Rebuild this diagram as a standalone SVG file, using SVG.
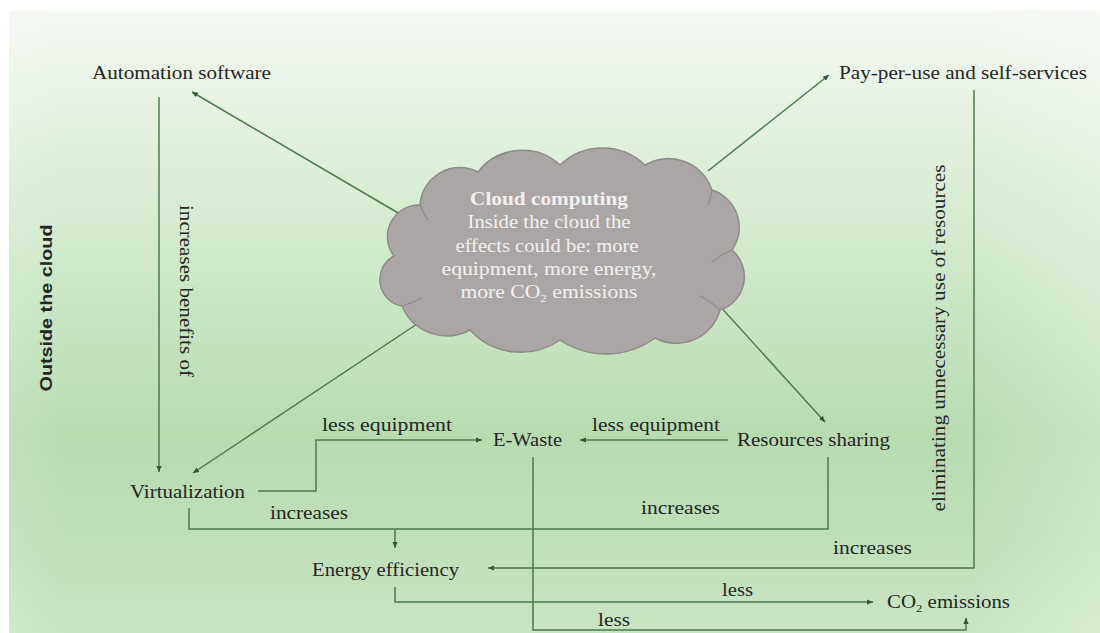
<svg xmlns="http://www.w3.org/2000/svg" width="1100" height="633" viewBox="0 0 1100 633">
  <defs>
    <linearGradient id="bg" x1="0" y1="0" x2="0" y2="1">
      <stop offset="0" stop-color="#f4f8f2"/>
      <stop offset="0.15" stop-color="#e7f2e4"/>
      <stop offset="0.45" stop-color="#cbe7c5"/>
      <stop offset="0.68" stop-color="#b7dcb0"/>
      <stop offset="0.85" stop-color="#bee0b7"/>
      <stop offset="1" stop-color="#c9e6c3"/>
    </linearGradient>
    <linearGradient id="side" x1="0" y1="0" x2="1" y2="0">
      <stop offset="0" stop-color="#ffffff" stop-opacity="0.12"/>
      <stop offset="0.05" stop-color="#ffffff" stop-opacity="0"/>
      <stop offset="0.88" stop-color="#ffffff" stop-opacity="0"/>
      <stop offset="1" stop-color="#ffffff" stop-opacity="0.25"/>
    </linearGradient>
    <marker id="arr" markerUnits="userSpaceOnUse" markerWidth="8" markerHeight="8" refX="6" refY="3" orient="auto">
      <path d="M0,0.4 L6,3 L0,5.6 Z" fill="#2f5a2f"/>
    </marker>
    <style>
      .lbl { font-family: "Liberation Serif", "Times New Roman", serif; font-size: 18px; fill: #262626; }
      .cl { font-family: "Liberation Serif", "Times New Roman", serif; font-size: 18px; fill: #f2f0f0; text-anchor: middle; }
      .ln { fill: none; stroke: #4b7b49; stroke-width: 1.5; }
      .ar { marker-end: url(#arr); }
      .inner { fill: none; stroke: #8f8a8a; stroke-width: 1.2; }
    </style>
  </defs>

  <rect x="0" y="0" width="1100" height="633" fill="#ffffff"/>
  <rect x="9" y="11" width="1091" height="622" fill="url(#bg)"/>
  <rect x="9" y="11" width="1091" height="622" fill="url(#side)"/>

  <g id="connectors">
    <path class="ln ar" d="M405,217 L192,92"/>
    <path class="ln ar" d="M708,171 L829,75"/>
    <path class="ln ar" d="M420,322 L193,473"/>
    <path class="ln ar" d="M708,293 L825,422"/>
    <path class="ln ar" d="M159,97 L159,472"/>
    <path class="ln ar" d="M258,491 H316 V440 H482"/>
    <path class="ln ar" d="M728,440 H580"/>
    <path class="ln" d="M189,508 V529 H828 V457"/>
    <path class="ln ar" d="M395,529 V548"/>
    <path class="ln ar" d="M974,90 V568 H488"/>
    <path class="ln ar" d="M395,587 V602 H873"/>
    <path class="ln ar" d="M533,457 V630 H966 V618"/>
  </g>

  <g id="cloud">
    <path d="M402,306 A26.8,26.8 0 0 1 394,256 A31.7,31.7 0 0 1 420,205 A39.9,39.9 0 0 1 478,172 A56,56 0 0 1 560,165 A61.6,61.6 0 0 1 645,165 A46,46 0 0 1 712,190 A39.2,39.2 0 0 1 732,250 A35,35 0 0 1 720,310 A45.4,45.4 0 0 1 655,338 A82.7,82.7 0 0 1 560,340 A68.9,68.9 0 0 1 470,330 A48.6,48.6 0 0 1 402,306 Z" fill="#aba6a6" stroke="#8f8a8a" stroke-width="1.5"/>
    <path class="inner" d="M732,250 Q722,254 712,262"/>
    <path class="inner" d="M720,310 Q712,302 700,296"/>
    <path class="inner" d="M420,205 Q423,213 428,220"/>
    <path class="inner" d="M402,306 Q412,303 422,298"/>
    <path class="inner" d="M712,190 Q711,198 708,205"/>
    <text class="cl" x="549" y="205" font-weight="bold" textLength="158" lengthAdjust="spacingAndGlyphs">Cloud computing</text>
    <text class="cl" x="549" y="228" textLength="163" lengthAdjust="spacingAndGlyphs">Inside the cloud the</text>
    <text class="cl" x="547" y="252" textLength="183" lengthAdjust="spacingAndGlyphs">effects could be: more</text>
    <text class="cl" x="549" y="275" textLength="215" lengthAdjust="spacingAndGlyphs">equipment, more energy,</text>
    <text class="cl" x="549" y="298" textLength="177" lengthAdjust="spacingAndGlyphs">more CO<tspan font-size="11" dy="4">2</tspan><tspan dy="-4"> emissions</tspan></text>
  </g>

  <g id="automation"><text class="lbl" x="92" y="79" textLength="179" lengthAdjust="spacingAndGlyphs">Automation software</text></g>
  <g id="payperuse"><text class="lbl" x="839" y="79" textLength="248" lengthAdjust="spacingAndGlyphs">Pay-per-use and self-services</text></g>
  <g id="virtualization"><text class="lbl" x="130" y="498" textLength="115" lengthAdjust="spacingAndGlyphs">Virtualization</text></g>
  <g id="ewaste"><text class="lbl" x="493" y="446" textLength="69" lengthAdjust="spacingAndGlyphs">E-Waste</text></g>
  <g id="resources"><text class="lbl" x="737" y="446" textLength="153" lengthAdjust="spacingAndGlyphs">Resources sharing</text></g>
  <g id="energy"><text class="lbl" x="312" y="576" textLength="147" lengthAdjust="spacingAndGlyphs">Energy efficiency</text></g>
  <g id="co2"><text class="lbl" x="887" y="608" textLength="123" lengthAdjust="spacingAndGlyphs">CO<tspan font-size="11" dy="4">2</tspan><tspan dy="-4"> emissions</tspan></text></g>
  <g id="outside"><text x="52" y="308" transform="rotate(-90 52 308)" text-anchor="middle" font-family="Liberation Sans, Arial, sans-serif" font-weight="bold" font-size="16" fill="#262626" textLength="167" lengthAdjust="spacingAndGlyphs">Outside the cloud</text></g>

  <g id="edge-labels">
    <text class="lbl" x="180" y="291" transform="rotate(90 180 291)" text-anchor="middle" textLength="172" lengthAdjust="spacingAndGlyphs">increases benefits of</text>
    <text class="lbl" x="945" y="338" transform="rotate(-90 945 338)" text-anchor="middle" textLength="347" lengthAdjust="spacingAndGlyphs">eliminating unnecessary use of resources</text>
    <text class="lbl" x="322" y="431" textLength="130" lengthAdjust="spacingAndGlyphs">less equipment</text>
    <text class="lbl" x="592" y="431" textLength="128" lengthAdjust="spacingAndGlyphs">less equipment</text>
    <text class="lbl" x="270" y="519" textLength="78" lengthAdjust="spacingAndGlyphs">increases</text>
    <text class="lbl" x="641" y="514" textLength="79" lengthAdjust="spacingAndGlyphs">increases</text>
    <text class="lbl" x="833" y="554" textLength="79" lengthAdjust="spacingAndGlyphs">increases</text>
    <text class="lbl" x="722" y="596" textLength="31" lengthAdjust="spacingAndGlyphs">less</text>
    <text class="lbl" x="598" y="626" textLength="32" lengthAdjust="spacingAndGlyphs">less</text>
  </g>
</svg>
